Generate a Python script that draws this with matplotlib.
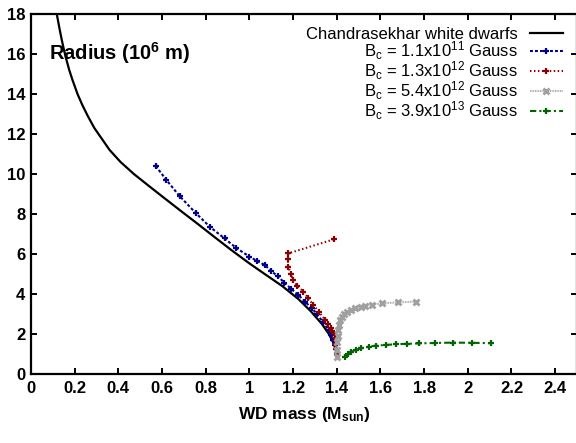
import matplotlib
matplotlib.use('Agg')
import matplotlib.pyplot as plt

# Chandrasekhar mass-radius relation (mass in M_sun, radius in 10^6 m)
mass_ch = [0.10, 0.118, 0.13, 0.14, 0.15, 0.16, 0.175, 0.19, 0.213, 0.235, 0.26,
           0.29, 0.325, 0.36, 0.41, 0.471, 0.54, 0.61, 0.69, 0.764, 0.84, 0.917,
           1.0, 1.07, 1.15, 1.224, 1.28, 1.332, 1.365, 1.386, 1.40]
rad_ch = [19.3, 18.0, 17.3, 16.75, 16.25, 15.8, 15.2, 14.7, 14.0, 13.45, 12.9,
          12.3, 11.75, 11.2, 10.6, 10.0, 9.4, 8.8, 8.12, 7.5, 6.85, 6.2,
          5.53, 5.0, 4.4, 3.75, 3.15, 2.5, 1.98, 1.52, 1.1]

# B_c = 1.1x10^11 Gauss
mass_b1 = [0.571, 0.62, 0.68, 0.756, 0.82, 0.886, 0.94, 1.0, 1.035, 1.07, 1.10, 1.13,
           1.16, 1.19, 1.224, 1.255, 1.286, 1.31, 1.335, 1.363, 1.375, 1.385, 1.392, 1.397]
rad_b1 = [10.4, 9.7, 8.9, 8.03, 7.35, 6.78, 6.3, 5.87, 5.65, 5.45, 5.15, 4.88,
          4.57, 4.27, 3.95, 3.62, 3.28, 3.0, 2.62, 2.2, 1.95, 1.7, 1.45, 1.25]

# B_c = 1.3x10^12 Gauss
mass_b2 = [1.386, 1.178, 1.176, 1.178, 1.19, 1.20, 1.22, 1.247, 1.27, 1.293, 1.32,
           1.347, 1.36, 1.372, 1.38, 1.386, 1.39, 1.394, 1.397, 1.399]
rad_b2 = [6.73, 6.03, 5.75, 5.37, 5.0, 4.7, 4.4, 4.12, 3.78, 3.45, 3.08,
          2.7, 2.5, 2.3, 2.15, 2.03, 1.8, 1.5, 1.25, 1.0]

# B_c = 5.4x10^12 Gauss
mass_b3 = [1.400, 1.401, 1.402, 1.404, 1.407, 1.41, 1.416, 1.425, 1.435, 1.447,
           1.465, 1.485, 1.51, 1.53, 1.56, 1.608, 1.68, 1.762]
rad_b3 = [0.87, 1.2, 1.6, 1.9, 2.2, 2.45, 2.7, 2.85, 2.98, 3.1,
          3.2, 3.28, 3.35, 3.42, 3.47, 3.53, 3.58, 3.62]

# B_c = 3.9x10^13 Gauss
mass_b4 = [1.436, 1.45, 1.465, 1.486, 1.51, 1.547, 1.58, 1.624, 1.67, 1.72,
           1.777, 1.85, 1.93, 2.02, 2.107]
rad_b4 = [0.87, 1.0, 1.1, 1.2, 1.28, 1.37, 1.42, 1.45, 1.49, 1.51,
          1.53, 1.55, 1.57, 1.56, 1.54]

x_ticks = [0, 0.2, 0.4, 0.6, 0.8, 1, 1.2, 1.4, 1.6, 1.8, 2, 2.2, 2.4]
x_tick_labels = ['0', '0.2', '0.4', '0.6', '0.8', '1', '1.2', '1.4', '1.6', '1.8', '2', '2.2', '2.4']
y_ticks = [0, 2, 4, 6, 8, 10, 12, 14, 16, 18]

plt.rcParams['font.family'] = ['Liberation Sans', 'DejaVu Sans']
plt.rcParams['mathtext.fontset'] = 'custom'
plt.rcParams['mathtext.rm'] = 'Liberation Sans'
plt.rcParams['mathtext.it'] = 'Liberation Sans:italic'
plt.rcParams['mathtext.bf'] = 'Liberation Sans:bold'
plt.rcParams['mathtext.default'] = 'regular'

fig = plt.figure(figsize=(5.76, 4.43), dpi=100)
ax = fig.add_axes([31 / 576, 1 - 374 / 443, 546 / 576, 360 / 443])

ax.plot(mass_ch, rad_ch, color='black', lw=1.6, label='Chandrasekhar white dwarfs')
ax.plot(mass_b1, rad_b1, color='#00008b', lw=1.5, dashes=(1.4, 1.0), marker='+',
        ms=4, mew=1.6, label=r'B$_c$ = 1.1x10$^{11}$ Gauss')
ax.plot(mass_b2, rad_b2, color='#8b0000', lw=1.5, dashes=(0.7, 1.2), marker='+',
        ms=4, mew=1.6, label=r'B$_c$ = 1.3x10$^{12}$ Gauss')
ax.plot(mass_b3, rad_b3, color='#a0a0a0', lw=1.5, dashes=(0.4, 0.4), marker='x',
        ms=5, mew=2.0, label=r'B$_c$ = 5.4x10$^{12}$ Gauss')
ax.plot(mass_b4, rad_b4, color='#006400', lw=1.5, dashes=(3, 1.5, 1, 1.5), marker='+',
        ms=4, mew=1.6, label=r'B$_c$ = 3.9x10$^{13}$ Gauss')

ax.set_xlim(0, 2.5)
ax.set_ylim(0, 18)
ax.set_xticks(x_ticks)
ax.set_xticklabels(x_tick_labels)
ax.set_yticks(y_ticks)
for sp in ax.spines.values():
    sp.set_linewidth(1.6)
ax.tick_params(direction='in', length=4, width=1.4, top=True, right=True, labelsize=12)
ax.tick_params(axis='x', pad=5)
ax.tick_params(axis='y', pad=4)
for lab in ax.get_xticklabels() + ax.get_yticklabels():
    lab.set_fontweight('bold')

ax.text(0.033, 0.892, r'Radius (10$^6$ m)', transform=ax.transAxes,
        fontsize=14.5, fontweight='bold', ha='left', va='center')
fig.text(304 / 576, 1 - 419 / 443, r'WD mass (M$_{sun}$)', fontsize=12.5,
         fontweight='bold', ha='center', va='baseline')

ax.legend(loc='upper right', bbox_to_anchor=(563 / 576, 1 - 27 / 443),
          bbox_transform=fig.transFigure, frameon=False, markerfirst=False,
          fontsize=12, handlelength=2.0, handletextpad=0.7, labelspacing=-0.16,
          borderpad=0, borderaxespad=0, numpoints=1)

plt.savefig('out.png', dpi=100)
